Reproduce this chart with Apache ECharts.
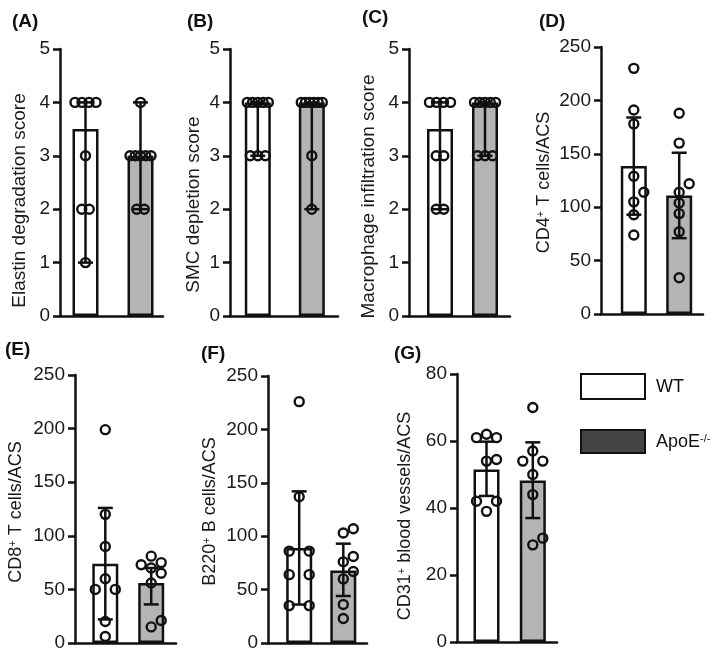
<!DOCTYPE html>
<html><head><meta charset="utf-8">
<script src="https://cdn.jsdelivr.net/npm/echarts@6/dist/echarts.min.js"></script>
<style>html,body{margin:0;padding:0;background:#fff}#c{width:719px;height:659px}</style>
</head><body><div id="c"></div>
<script>
// ---------------- data ----------------
const groups = ['WT', 'ApoE-/-'];
const panelLabels = ['(A)', '(B)', '(C)', '(D)', '(E)', '(F)', '(G)'];
const yTitles = [
  'Elastin degradation score',
  'SMC depletion score',
  'Macrophage infiltration score',
  'CD4{sup|+} T cells/ACS',
  'CD8{sup|+} T cells/ACS',
  'B220{sup|+} B cells/ACS',
  'CD31{sup|+} blood vessels/ACS'
];
const yMax = [5, 5, 5, 250, 250, 250, 80];
const yStep = [1, 1, 1, 50, 50, 50, 20];

// (A) Elastin degradation score
const elastinWT = [4, 4, 4, 4, 3, 2, 2, 1];
const elastinApoE = [4, 3, 3, 3, 3, 3, 2, 2];
const elastinBar = [3.5, 3];
const elastinErr = [[1, 4], [2, 4]];
// (B) SMC depletion score
const smcWT = [4, 4, 4, 4, 4, 3, 3, 3];
const smcApoE = [4, 4, 4, 4, 4, 4, 3, 2];
const smcBar = [4, 4];
const smcErr = [[3, 4], [2, 4]];
// (C) Macrophage infiltration score
const macroWT = [4, 4, 4, 4, 3, 3, 2, 2];
const macroApoE = [4, 4, 4, 4, 4, 3, 3, 3];
const macroBar = [3.5, 4];
const macroErr = [[2, 4], [3, 4]];
// (D) CD4+ T cells
const cd4WT = [230, 191, 178, 129, 114, 105, 93, 74];
const cd4ApoE = [188, 160, 122, 114, 104, 94, 77, 34];
const cd4Bar = [138.5, 111];
const cd4Err = [[93, 184], [71, 151]];
// (E) CD8+ T cells
const cd8WT = [199, 120, 90, 60, 50, 50, 20, 6];
const cd8ApoE = [81, 75, 73, 70, 65, 56, 21, 15];
const cd8Bar = [74, 56];
const cd8Err = [[22, 126], [36, 70]];
// (F) B220+ B cells
const b220WT = [226, 137, 86, 86, 64, 64, 35, 35];
const b220ApoE = [107, 103, 81, 76, 67, 60, 36, 23];
const b220Bar = [89, 68];
const b220Err = [[36, 142], [44, 93]];
// (G) CD31+ blood vessels
const cd31WT = [62, 61, 61, 54.5, 54, 42, 42, 39];
const cd31ApoE = [70, 57, 54, 54, 50, 44, 31, 29];
const cd31Bar = [51.5, 48.2];
const cd31Err = [[43.6, 59.8], [37, 59.6]];

const panelPoints = [
  [elastinWT, elastinApoE], [smcWT, smcApoE], [macroWT, macroApoE],
  [cd4WT, cd4ApoE], [cd8WT, cd8ApoE], [b220WT, b220ApoE], [cd31WT, cd31ApoE]
];
const panelBars = [elastinBar, smcBar, macroBar, cd4Bar, cd8Bar, b220Bar, cd31Bar];
const panelErrs = [elastinErr, smcErr, macroErr, cd4Err, cd8Err, b220Err, cd31Err];

// ---------------- layout (pixels) ----------------
const layout = [
  { ax: 60,  end: 163, top: 49,  bot: 316, c1: 85.5,  c2: 140.5, gap: 31, tfs: 19, tshift: 18, mode: 'rows',  lx: 12,  ly: 23 },
  { ax: 230, end: 338, top: 49,  bot: 316, c1: 257.8, c2: 311.8, gap: 27, tfs: 19, tshift: 22, mode: 'rows',  lx: 187, ly: 23 },
  { ax: 409, end: 510, top: 49,  bot: 316, c1: 440,   c2: 485,   gap: 31, tfs: 19, tshift: 14, mode: 'rows',  lx: 362, ly: 19 },
  { ax: 601, end: 703, top: 47,  bot: 314, c1: 633.8, c2: 679.2, gap: 48, tfs: 18, tshift: 2,  mode: 'swarm', lx: 539, ly: 23 },
  { ax: 75,  end: 176, top: 375, bot: 643, c1: 105.3, c2: 151.2, gap: 50, tfs: 18, tshift: 3,  mode: 'swarm', lx: 5,   ly: 351 },
  { ax: 268, end: 367, top: 376, bot: 643, c1: 299.2, c2: 343.3, gap: 49, tfs: 18, tshift: 2,  mode: 'swarm', lx: 201, ly: 355 },
  { ax: 457, end: 557, top: 374, bot: 642, c1: 486.5, c2: 532.8, gap: 43, tfs: 18, tshift: 8,  mode: 'swarm', lx: 394, ly: 355 }
];

const FONT = '"Liberation Sans", Arial, Helvetica, sans-serif';
const INK = '#111';
const GREY = '#b4b4b4';
const LW = 2.5;
const DOT = 10;

// offsets for discrete scores: identical values spread in a compact row
function rowOffsets(vals) {
  const counts = {}, seen = {};
  vals.forEach(v => counts[v] = (counts[v] || 0) + 1);
  return vals.map(v => {
    const n = counts[v];
    const j = seen[v] = (seen[v] === undefined ? 0 : seen[v] + 1);
    const step = n > 1 ? Math.min(7.5, 21 / (n - 1)) : 0;
    return (j - (n - 1) / 2) * step;
  });
}
// beeswarm (pixel space) for continuous values: tied values placed as a symmetric block
function swarmOffsets(vals, ppu, d) {
  const uniq = [...new Set(vals)].sort((a, b) => a - b);
  const placed = [], byVal = {};
  const free = (dx, y) => placed.every(p => Math.hypot(p.x - dx, p.y - y) >= d - 0.01);
  for (const v of uniq) {
    const k = vals.filter(x => x === v).length;
    const y = v * ppu;
    let base;
    if (k === 1) base = [0];
    else if (k % 2 === 0) { base = []; for (let j = 1; j <= k / 2; j++) base.push(-j * d, j * d); }
    else { base = [0]; for (let j = 1; j <= (k - 1) / 2; j++) base.push(-j * d, j * d); }
    let chosen = null;
    for (let s = 0; s < 30 && !chosen; s++) {
      const sh = s === 0 ? 0 : (s % 2 ? 1 : -1) * Math.ceil(s / 2) * d;
      const cand = base.map(b => b + sh);
      if (cand.every(dx => free(dx, y))) chosen = cand;
    }
    chosen.forEach(dx => placed.push({ x: dx, y }));
    byVal[v] = chosen.slice();
  }
  return vals.map(v => byVal[v].shift());
}

function errorRender(params, api) {
  const x = api.value(0), lo = api.value(1), hi = api.value(2);
  const a = api.coord([x, lo]), b = api.coord([x, hi]);
  const hw = 7.5;
  const st = { stroke: INK, lineWidth: LW };
  return {
    type: 'group', children: [
      { type: 'line', shape: { x1: a[0], y1: a[1], x2: b[0], y2: b[1] }, style: st },
      { type: 'line', shape: { x1: b[0] - hw, y1: b[1], x2: b[0] + hw, y2: b[1] }, style: st },
      { type: 'line', shape: { x1: a[0] - hw, y1: a[1], x2: a[0] + hw, y2: a[1] }, style: st }
    ]
  };
}

const grid = [], xAxis = [], yAxis = [], series = [], graphic = [];
layout.forEach((L, i) => {
  const u = L.c2 - L.c1;
  grid.push({ left: L.ax, top: L.top, width: L.end - L.ax, height: L.bot - L.top,
    containLabel: false, outerBoundsMode: 'none' });
  xAxis.push({ gridIndex: i, type: 'value', min: (L.ax - L.c1) / u, max: (L.end - L.c1) / u,
    axisLine: { show: true, onZero: false, lineStyle: { color: INK, width: LW } },
    axisTick: { show: false }, axisLabel: { show: false }, splitLine: { show: false } });
  yAxis.push({ gridIndex: i, type: 'value', min: 0, max: yMax[i], interval: yStep[i],
    axisLine: { show: true, onZero: false, lineStyle: { color: INK, width: LW } },
    axisTick: { show: true, length: 7, lineStyle: { color: INK, width: LW } },
    axisLabel: { margin: 10, fontSize: 19, color: '#1a1a1a', fontFamily: FONT },
    splitLine: { show: false },
    name: yTitles[i], nameLocation: 'middle', nameGap: L.gap, nameRotate: 90,
    nameTextStyle: { fontSize: L.tfs, color: '#1a1a1a', fontFamily: FONT,
      padding: [0, 2 * L.tshift, 0, 0],
      rich: { sup: { fontSize: 11, verticalAlign: 'top', color: '#1a1a1a', fontFamily: FONT } } }
  });
  series.push({
    type: 'bar', xAxisIndex: i, yAxisIndex: i, barWidth: 26, z: 2, silent: true,
    itemStyle: { borderColor: INK, borderWidth: LW },
    data: panelBars[i].map((v, g) => ({ value: [g, v], itemStyle: { color: g === 0 ? '#ffffff' : GREY } }))
  });
  series.push({
    type: 'custom', xAxisIndex: i, yAxisIndex: i, z: 3, clip: false, silent: true,
    encode: { x: 0, y: [1, 2] },
    data: panelErrs[i].map((e, g) => [g, e[0], e[1]]),
    renderItem: errorRender
  });
  const ppu = (L.bot - L.top) / yMax[i];
  panelPoints[i].forEach((vals, g) => {
    const offs = L.mode === 'rows' ? rowOffsets(vals) : swarmOffsets(vals, ppu, DOT);
    series.push({
      type: 'scatter', xAxisIndex: i, yAxisIndex: i, z: 4, silent: true,
      symbol: 'circle', symbolSize: 9,
      itemStyle: { color: 'rgba(255,255,255,0)', borderColor: INK, borderWidth: 2.4, opacity: 1 },
      data: vals.map((v, j) => ({ value: [g, v], symbolOffset: [offs[j], 0] }))
    });
  });
  graphic.push({ type: 'text', left: L.lx, top: L.ly - 11,
    style: { text: panelLabels[i], font: 'bold 19px ' + FONT, fill: INK } });
});

// legend (drawn as graphic elements)
graphic.push(
  { type: 'rect', shape: { x: 581, y: 374, width: 64, height: 25 },
    style: { fill: '#ffffff', stroke: INK, lineWidth: 2 } },
  { type: 'rect', shape: { x: 581, y: 430, width: 64, height: 23 },
    style: { fill: '#444444', stroke: INK, lineWidth: 2 } },
  { type: 'text', x: 656, y: 387,
    style: { text: groups[0], font: '18px ' + FONT, fill: INK, verticalAlign: 'middle' } },
  { type: 'text', x: 656, y: 442,
    style: { text: 'ApoE{sup|-/-}', font: '18px ' + FONT, fill: INK, verticalAlign: 'middle',
      rich: { sup: { fontSize: 11, verticalAlign: 'top', fontFamily: FONT, fill: INK } } } }
);

const chart = echarts.init(document.getElementById('c'), null, { renderer: 'canvas' });
chart.setOption({
  backgroundColor: '#ffffff', animation: false,
  grid, xAxis, yAxis, series, graphic
});
</script></body></html>
